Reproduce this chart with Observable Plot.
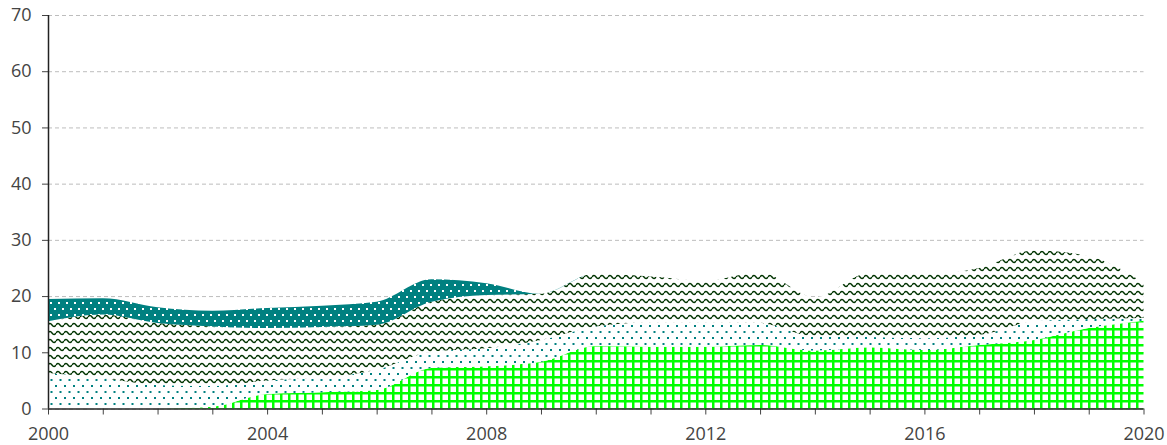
<!DOCTYPE html>
<html>
<head>
<meta charset="utf-8">
<script src="https://cdn.jsdelivr.net/npm/d3@7"></script>
<script src="https://cdn.jsdelivr.net/npm/@observablehq/plot@0.6"></script>
<style>
  html, body { margin: 0; padding: 0; background: #fff; }
  #chart svg { display: block; }
</style>
</head>
<body>
<div id="chart"></div>
<script>
// ---- data ----
const years = [2000,2001,2002,2003,2004,2005,2006,2007,2008,2009,2010,2011,2012,2013,2014,2015,2016,2017,2018,2019,2020];
const seriesNames = ["Grid", "Dots", "Waves", "Teal"];
const gridValues  = [0,0,0,0.3,2.6,2.9,3.3,7.2,7.5,8.3,11.1,11.0,11.0,11.3,10.3,10.9,10.4,11.3,12.2,14.3,15.6];
const dotsValues  = [6.3,5.4,4.2,3.7,2.4,2.6,3.6,2.9,3.2,3.9,3.5,4.3,4.3,3.9,2.5,1.8,2.1,1.8,3.3,1.6,0.5];
const wavesValues = [9.2,11.3,11.0,10.6,9.3,9.0,8.0,8.9,9.5,8.2,9.4,8.2,7.5,9.0,7.0,11.4,11.4,11.9,12.6,11.2,6.3];
const tealValues  = [4.0,2.9,2.8,2.8,3.6,3.8,4.1,4.0,2.1,0,0,0,0,0,0,0,0,0,0,0,0];
const yTicks = [0,10,20,30,40,50,60,70];
const xLabelYears = [2000,2004,2008,2012,2016,2020];

const seriesValues = [gridValues, dotsValues, wavesValues, tealValues];
const data = [];
seriesNames.forEach((name, i) => {
  seriesValues[i].forEach((v, j) => data.push({year: years[j], series: name, value: v}));
});

const patternUrls = ["url(#pGrid)", "url(#pDots)", "url(#pWaves)", "url(#pTeal)"];

const plot = Plot.plot({
  width: 1167,
  height: 445,
  marginLeft: 48,
  marginRight: 23.5,
  marginTop: 15,
  marginBottom: 36.5,
  style: {fontFamily: "'Open Sans', sans-serif", fontSize: "18px", color: "#444", background: "#fff", overflow: "visible"},
  x: {domain: [2000, 2020]},
  y: {domain: [0, 70]},
  color: {domain: seriesNames, range: patternUrls},
  marks: [
    Plot.gridY({ticks: yTicks, stroke: "#bdbdbd", strokeOpacity: 1, strokeWidth: 1, strokeDasharray: "4,3"}),
    Plot.areaY(data, Plot.stackY({x: "year", y: "value", z: "series", fill: "series", order: seriesNames, curve: "monotone-x"})),
    Plot.axisY({ticks: yTicks, tickSize: 6, tickPadding: 11, stroke: "#444", fill: "#444", label: null}),
    Plot.axisX({ticks: years, tickSize: 6, tickPadding: 12, stroke: "#444", fill: "#444", label: null,
      tickFormat: d => xLabelYears.includes(d) ? String(d) : ""}),
    Plot.ruleX([2000], {stroke: "#222", strokeWidth: 1.5}),
    Plot.ruleY([0], {stroke: "#222", strokeWidth: 1.5})
  ]
});

// pattern definitions
const svg = d3.select(plot);
const defs = svg.insert("defs", ":first-child");

const pGrid = defs.append("pattern").attr("id", "pGrid").attr("patternUnits", "userSpaceOnUse").attr("width", 8).attr("height", 8);
pGrid.append("rect").attr("width", 8).attr("height", 8).attr("fill", "#fff");
pGrid.append("path").attr("d", "M0,1.25 H8 M1.25,0 V8").attr("stroke", "#00ff00").attr("stroke-width", 2.5).attr("fill", "none");

const pDots = defs.append("pattern").attr("id", "pDots").attr("patternUnits", "userSpaceOnUse").attr("width", 9).attr("height", 12);
pDots.append("rect").attr("width", 9).attr("height", 12).attr("fill", "#fff");
pDots.append("rect").attr("x", 1).attr("y", 1).attr("width", 2).attr("height", 2).attr("fill", "#008080");
pDots.append("rect").attr("x", 5.5).attr("y", 7).attr("width", 2).attr("height", 2).attr("fill", "#008080");

const pWaves = defs.append("pattern").attr("id", "pWaves").attr("patternUnits", "userSpaceOnUse").attr("width", 8).attr("height", 8);
pWaves.append("rect").attr("width", 8).attr("height", 8).attr("fill", "#fff");
pWaves.append("path").attr("d", "M0,5 Q2,2 4,5 T8,5").attr("fill", "none").attr("stroke", "#003300").attr("stroke-width", 1.4);

const pTeal = defs.append("pattern").attr("id", "pTeal").attr("patternUnits", "userSpaceOnUse").attr("width", 8).attr("height", 12);
pTeal.append("rect").attr("width", 8).attr("height", 12).attr("fill", "#008080");
pTeal.append("rect").attr("x", 2).attr("y", 2).attr("width", 2).attr("height", 2).attr("fill", "#fff");
pTeal.append("rect").attr("x", 6).attr("y", 8).attr("width", 2).attr("height", 2).attr("fill", "#fff");

document.getElementById("chart").appendChild(plot);
</script>
</body>
</html>
